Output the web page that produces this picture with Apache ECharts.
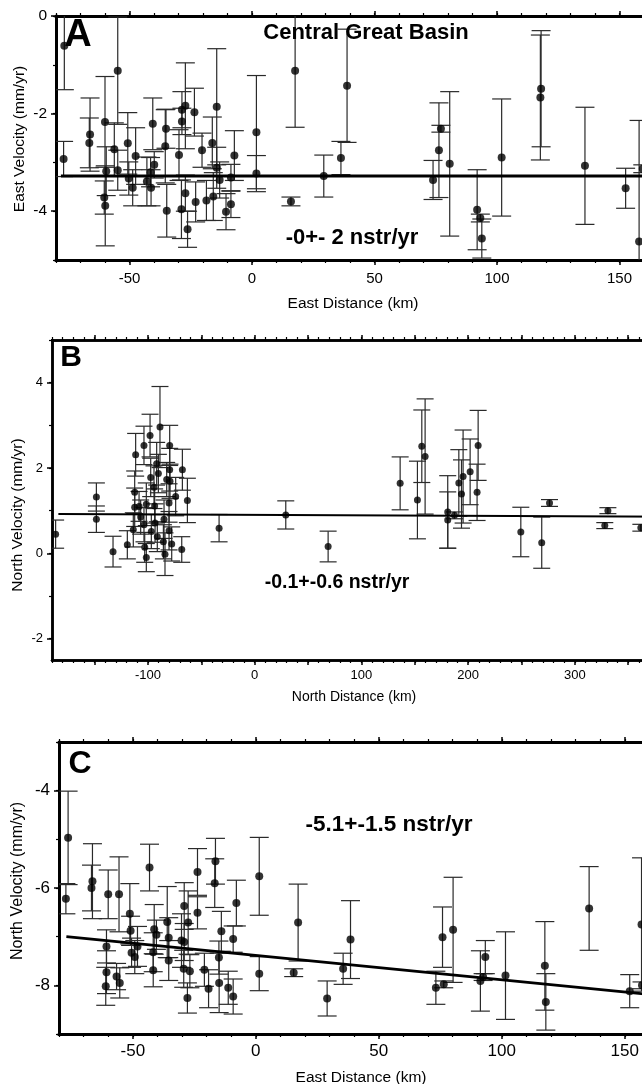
<!DOCTYPE html>
<html>
<head>
<meta charset="utf-8">
<title>Central Great Basin velocity profiles</title>
<script src="https://cdn.jsdelivr.net/npm/echarts@6/dist/echarts.min.js"></script>
<style>
  html, body { margin: 0; padding: 0; background: #fff; overflow: hidden; }
  /* the plots run past the right edge of the page, as in the original figure */
  #chart { width: 700px; height: 1084px; }
</style>
</head>
<body>
<div id="chart"></div>
<script>
// panel A: east velocity vs east distance
const aDist = [-76.6, -76.9, -66.1, -66.4, -60.0, -60.3, -59.9, -59.5, -56.2, -54.8, -54.8, -50.7, -50.3, -48.7, -47.5, -42.9,
  -41.4, -41.2, -40.5, -39.9, -35.4, -35.1, -34.8, -29.8, -28.8, -28.6, -28.6, -27.2, -27.2, -26.3, -23.5, -23.0,
  -20.4, -18.6, -16.2, -15.8, -14.4, -14.4, -13.2, -10.6, -8.6, -8.6, -7.2, 1.8, 1.8, 15.9, 17.6, 29.3,
  36.3, 38.8, 73.9, 76.3, 77.1, 80.7, 91.9, 93.2, 93.8, 101.9, 118.0, 117.7, 135.9, 152.5, 158.0, 159.5]
const aVel = [-0.61, -2.93, -2.43, -2.60, -2.17, -3.72, -3.89, -3.18, -2.73, -1.12, -3.16, -2.61, -3.33, -3.52, -2.87, -3.39,
  -3.20, -3.52, -2.21, -3.05, -2.67, -2.31, -3.99, -2.85, -3.96, -1.92, -2.16, -1.84, -3.63, -4.37, -1.97, -3.81,
  -2.75, -3.78, -2.60, -3.70, -1.86, -3.11, -3.36, -4.01, -3.86, -3.31, -2.86, -2.38, -3.23, -3.80, -1.12, -3.28,
  -2.91, -1.43, -3.36, -2.75, -2.31, -3.03, -3.97, -4.14, -4.56, -2.90, -1.49, -1.67, -3.07, -3.53, -4.62, -3.13]
const aErr = [0.90, 0.36, 0.75, 0.51, 0.93, 0.34, 0.82, 0.50, 0.54, 1.10, 0.41, 0.63, 0.34, 0.37, 0.58, 0.50,
  0.30, 0.37, 0.53, 0.27, 0.75, 0.40, 0.54, 0.52, 0.60, 0.37, 0.27, 0.88, 0.37, 0.37, 0.49, 0.41,
  0.35, 0.41, 0.53, 0.49, 1.19, 0.42, 0.37, 0.37, 0.27, 0.27, 0.51, 1.16, 0.37, 0.09, 1.16, 0.43,
  0.34, 1.16, 0.40, 0.97, 0.07, 1.48, 0.82, 0.08, 0.40, 1.20, 1.19, 1.28, 1.20, 0.41, 2.48, 0.08]
const aFitDist = [-78, 170]
const aFitVel = [-3.28, -3.28]
const aTickX = [-50, 0, 50, 100, 150]
const aTickY = [0, -2, -4]

// panel B: north velocity vs north distance
const bDist = [-186.6, -148.4, -148.4, -132.8, -119.4, -113.8, -112.5, -111.6, -112.5, -108.4, -106.9, -103.8, -103.1, -101.6, -101.6, -103.8,
  -98.1, -97.5, -96.9, -94.4, -93.8, -93.4, -91.9, -91.3, -90.3, -88.8, -85.6, -84.1, -85.0, -82.5, -80.3, -79.7,
  -79.7, -79.4, -80.3, -77.8, -74.1, -68.4, -67.8, -63.1, -33.4, 29.1, 68.8, 136.3, 152.5, 156.6, 159.7,
  180.9, 180.9, 187.2, 191.3, 193.8, 195.3, 201.9, 208.4, 209.4, 249.4, 269.0, 276.3, 331.0, 328.1, 361.9]
const bVel = [0.45, 1.32, 0.80, 0.04, 0.20, 0.55, 1.43, 2.31, 1.08, 1.10, 0.85, 0.67, 0.14, 1.15, -0.10, 2.53,
  2.76, 1.78, 0.51, 1.55, 1.11, 0.71, 2.10, 0.39, 1.87, 2.96, 0.27, -0.02, 0.80, 1.73, 1.18, 2.53,
  1.96, 1.69, 0.53, 0.22, 1.33, 0.09, 1.96, 1.24, 0.59, 0.90, 0.16, 1.64, 1.25, 2.51, 2.27,
  0.97, 0.78, 0.89, 1.65, 1.39, 1.80, 1.91, 1.43, 2.53, 0.50, 0.25, 1.18, 1.00, 0.65, 0.60]
const bErr = [0.33, 0.33, 0.31, 0.36, 0.33, 0.40, 0.50, 0.50, 0.45, 0.35, 0.40, 0.40, 0.35, 0.50, 0.33, 0.45,
  0.50, 0.45, 0.40, 0.50, 0.40, 0.45, 0.50, 0.35, 0.45, 0.95, 0.40, 0.50, 0.45, 0.40, 0.45, 0.47,
  0.50, 0.40, 0.45, 0.40, 0.45, 0.30, 0.48, 0.52, 0.32, 0.33, 0.36, 0.62, 0.91, 0.85, 1.35,
  0.85, 0.66, 0.08, 0.78, 0.80, 1.09, 0.77, 0.66, 0.82, 0.58, 0.60, 0.08, 0.07, 0.07, 0.08]
const bFitDist = [-184, 400]
const bFitVel = [0.92, 0.856]
const bTickX = [-100, 0, 100, 200, 300]
const bTickY = [-2, 0, 2, 4]

// panel C: north velocity vs east distance
const cDist = [-76.3, -77.2, -66.8, -66.4, -60.7, -60.7, -61.0, -60.0, -55.6, -56.6, -55.3, -51.2, -50.9, -50.5, -49.2, -48.1,
  -43.2, -41.7, -41.7, -41.3, -40.4, -36.0, -35.4, -35.4, -30.2, -29.1, -29.1, -29.3, -27.8, -27.5, -26.8, -23.7,
  -23.7, -20.9, -19.2, -16.4, -16.7, -15.0, -14.9, -14.0, -11.2, -9.2, -9.2, -7.9, 1.4, 1.4, 15.4, 17.2,
  29.0, 35.5, 38.5, 73.2, 75.9, 76.4, 80.2, 91.3, 92.4, 93.3, 101.5, 117.5, 117.9, 135.5, 152.0, 156.8, 157.0]
const cVel = [-4.97, -6.22, -6.00, -5.86, -7.20, -7.73, -8.02, -6.13, -6.13, -7.82, -7.95, -6.53, -6.88, -7.33, -7.42, -7.20,
  -5.58, -7.32, -7.69, -6.85, -6.96, -6.70, -7.02, -7.49, -7.08, -6.37, -7.11, -7.66, -8.26, -6.71, -7.71, -5.67,
  -6.51, -7.68, -8.07, -5.45, -5.90, -7.43, -7.95, -6.89, -8.05, -7.05, -8.23, -6.31, -5.76, -7.76, -7.74, -6.71,
  -8.27, -7.66, -7.06, -8.05, -7.01, -7.98, -6.86, -7.91, -7.83, -7.42, -7.80, -7.60, -8.34, -6.42, -8.12, -6.75, -8.00]
const cErr = [0.96, 0.31, 0.47, 0.77, 0.34, 0.44, 0.39, 0.50, 0.77, 0.27, 0.31, 0.62, 0.30, 0.30, 0.34, 0.41,
  0.48, 0.40, 0.34, 0.51, 0.30, 0.73, 0.41, 0.41, 0.55, 0.48, 0.38, 0.38, 0.31, 0.65, 0.34, 0.48,
  0.33, 0.34, 0.39, 0.47, 0.50, 0.34, 0.61, 0.41, 0.34, 0.27, 0.36, 0.47, 0.80, 0.35, 0.08, 0.79,
  0.36, 0.32, 0.80, 0.34, 0.62, 0.07, 1.08, 0.62, 0.07, 0.34, 0.90, 0.91, 0.58, 0.86, 0.34, 1.37, 0.07]
const cFitDist = [-77, 170]
const cFitVel = [-7.0, -8.235]
const cTickX = [-50, 0, 50, 100, 150]
const cTickY = [-4, -6, -8]

const FONT = '"Liberation Sans", Arial, Helvetica, sans-serif'

function steps(from, to, step) {
  const out = []
  for (let v = from; v <= to + 1e-9; v += step) out.push(Math.round(v * 1000) / 1000)
  return out
}
function zip(x, y, e) {
  return x.map((v, i) => e ? [v, y[i], e[i]] : [v, y[i]])
}

// one axis with the heavy line, long ticks and labels, plus a twin that only carries the short ticks
function axisPair(pos, grid, min, max, majors, minors, labels, opt) {
  const base = { type: 'value', gridIndex: grid, min: min, max: max, position: pos, splitLine: { show: false } }
  const line = { show: true, onZero: false, lineStyle: { color: '#000', width: opt.lw } }
  return [
    Object.assign({}, base, {
      axisLine: line,
      axisTick: { show: true, customValues: majors, length: 5, lineStyle: { color: '#000', width: 1.5 } },
      axisLabel: labels ? { show: true, customValues: labels, margin: opt.margin, fontSize: opt.fs,
        color: '#000', fontFamily: FONT } : { show: false }
    }),
    Object.assign({}, base, {
      axisLine: line,
      axisTick: { show: true, customValues: minors, length: 3, lineStyle: { color: '#000', width: 1.2 } },
      axisLabel: { show: false }
    })
  ]
}

function errorBars(capHalf, lw) {
  return function (params, api) {
    const x = api.value(0), y = api.value(1), e = api.value(2)
    const hi = api.coord([x, y + e])
    const lo = api.coord([x, y - e])
    const style = { stroke: '#2a2a2a', lineWidth: lw }
    return {
      type: 'group',
      children: [
        { type: 'line', shape: { x1: hi[0], y1: hi[1], x2: lo[0], y2: lo[1] }, style: style },
        { type: 'line', shape: { x1: hi[0] - capHalf, y1: hi[1], x2: hi[0] + capHalf, y2: hi[1] }, style: style },
        { type: 'line', shape: { x1: lo[0] - capHalf, y1: lo[1], x2: lo[0] + capHalf, y2: lo[1] }, style: style }
      ]
    }
  }
}

function panelSeries(g, dist, vel, err, fitX, fitY, dot, fitW, cap) {
  return [
    { type: 'custom', xAxisIndex: 4 * g, yAxisIndex: 2 * g, clip: true, z: 2,
      renderItem: errorBars(cap, 1.2), encode: { x: 0, y: 1 }, data: zip(dist, vel, err) },
    { type: 'scatter', xAxisIndex: 4 * g, yAxisIndex: 2 * g, symbolSize: dot, z: 4,
      itemStyle: { color: '#000' }, data: zip(dist, vel) },
    { type: 'line', xAxisIndex: 4 * g, yAxisIndex: 2 * g, symbol: 'none', z: 3,
      lineStyle: { color: '#000', width: fitW }, data: zip(fitX, fitY) }
  ]
}

function txt(x, y, text, size, bold, rot) {
  return { type: 'text', x: x, y: y, rotation: rot || 0, z: 10,
    style: { text: text, fill: '#000', align: 'center', verticalAlign: 'middle',
      font: (bold ? 'bold ' : '') + size + 'px ' + FONT } }
}

const chart = echarts.init(document.getElementById('chart'))
const option = {
  animation: false,
  backgroundColor: '#fff',
  grid: [
    { left: 56, top: 16, width: 612.5, height: 244 },
    { left: 52, top: 340, width: 629.5, height: 320 },
    { left: 59, top: 742, width: 615, height: 292 }
  ],
  xAxis: [].concat(
    axisPair('bottom', 0, -80, 170, steps(-50, 150, 50), steps(-80, 170, 10), aTickX, { lw: 3, margin: 11, fs: 15 }),
    axisPair('top', 0, -80, 170, steps(-50, 150, 50), steps(-80, 170, 10), null, { lw: 3 }),
    axisPair('bottom', 1, -190, 400, steps(-150, 400, 50), steps(-190, 400, 10), bTickX, { lw: 2.5, margin: 9, fs: 13 }),
    axisPair('top', 1, -190, 400, steps(-150, 400, 50), steps(-190, 400, 10), null, { lw: 2.5 }),
    axisPair('bottom', 2, -80, 170, steps(-50, 150, 50), steps(-80, 170, 10), cTickX, { lw: 3, margin: 9, fs: 17 }),
    axisPair('top', 2, -80, 170, steps(-50, 150, 50), steps(-80, 170, 10), null, { lw: 3 })
  ),
  yAxis: [].concat(
    axisPair('left', 0, -5, 0, aTickY, steps(-5, 0, 1), aTickY, { lw: 3, margin: 9, fs: 15.5 }),
    axisPair('left', 1, -2.5, 5, bTickY, steps(-2, 5, 1), bTickY, { lw: 2.5, margin: 9, fs: 13 }),
    axisPair('left', 2, -9, -3, cTickY, steps(-9, -3, 1), cTickY, { lw: 3, margin: 9, fs: 17 })
  ),
  series: [].concat(
    panelSeries(0, aDist, aVel, aErr, aFitDist, aFitVel, 8, 3, 9.5),
    panelSeries(1, bDist, bVel, bErr, bFitDist, bFitVel, 7, 2, 8.5),
    panelSeries(2, cDist, cVel, cErr, cFitDist, cFitVel, 8, 2.8, 9.5)
  ),
  graphic: [
    txt(78, 36, 'A', 38, true),
    txt(366, 33, 'Central Great Basin', 22, true),
    txt(352, 238, '-0+- 2 nstr/yr', 22, true),
    txt(353, 304, 'East Distance (km)', 15.5, false),
    txt(20, 139, 'East Velocity (mm/yr)', 15.5, false, Math.PI / 2),
    txt(71, 358, 'B', 30, true),
    txt(337, 583, '-0.1+-0.6 nstr/yr', 19.5, true),
    txt(354, 697, 'North Distance (km)', 14, false),
    txt(18, 515, 'North Velocity (mm/yr)', 15.5, false, Math.PI / 2),
    txt(80, 764, 'C', 32, true),
    txt(389, 825, '-5.1+-1.5 nstr/yr', 22.5, true),
    txt(361, 1078, 'East Distance (km)', 15.5, false),
    txt(18, 881, 'North Velocity (mm/yr)', 16, false, Math.PI / 2)
  ]
}
chart.setOption(option)
</script>
</body>
</html>
